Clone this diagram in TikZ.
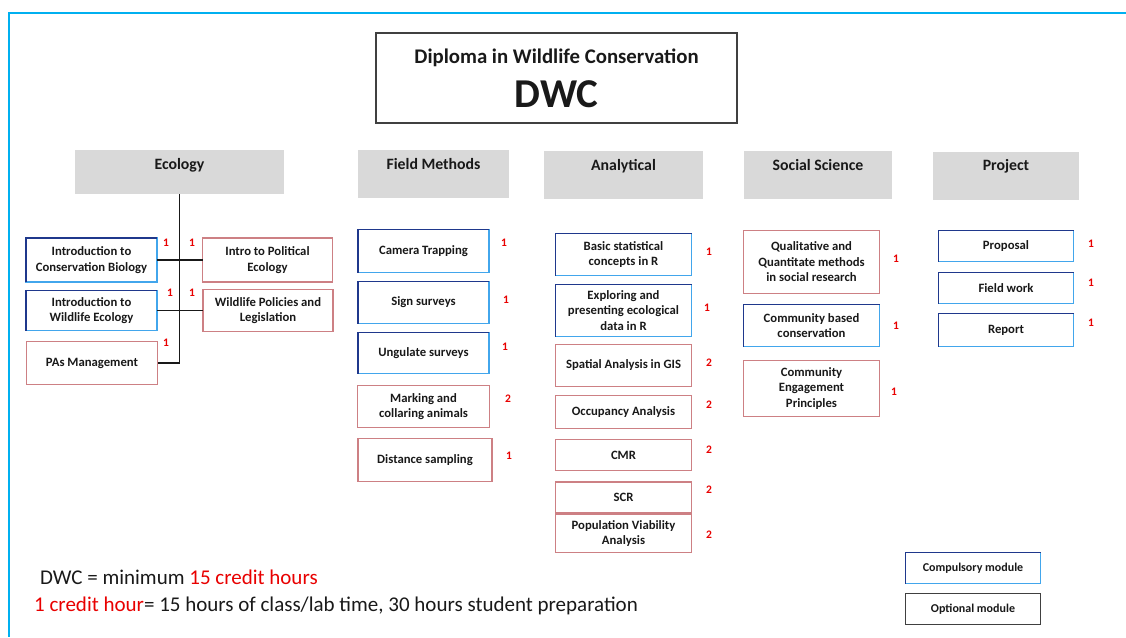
\documentclass[tikz,border=0pt]{standalone}
\usepackage{fontspec}
\setmainfont{Carlito}
\usetikzlibrary{positioning,calc}
\definecolor{navyline}{RGB}{31,56,140}
\definecolor{skyline}{RGB}{66,166,236}
\definecolor{roseline}{RGB}{205,128,132}
\definecolor{headgray}{RGB}{217,217,217}
\definecolor{framecyan}{RGB}{0,176,240}
\definecolor{creditred}{RGB}{232,0,0}
\tikzset{
    module/.style={draw, fill=white, align=center, outer sep=0pt, inner sep=1pt, line width=1.6pt, text=black!90, font=\bfseries\fontsize{12.7}{15.5}\selectfont},
    compulsory/.style={module, draw=skyline},
    optional/.style={module, draw=roseline},
    header/.style={fill=headgray, outer sep=0pt, inner sep=0pt, text height=19pt, text depth=29pt, text=black!90, font=\bfseries\fontsize{15.8}{18}\selectfont},
    credit/.style={text=creditred, inner sep=0pt, font=\bfseries\fontsize{11.5}{13}\selectfont},
    link/.style={draw=black!90, line width=1.2pt}
}

\begin{document}
\begin{tikzpicture}[x=1pt,y=-1pt]
    \useasboundingbox (0,0) rectangle (1126,637);
    \draw[framecyan, line width=2.5pt] (1126,13) -- (9,13) -- (9,637);
    \node[draw=black!75, line width=1.8pt, minimum width=361pt, minimum height=90pt, align=center, text=black!90, font=\bfseries\fontsize{41}{44}\selectfont] (dwc) at (556.5,78) {{\fontsize{20.8}{24}\selectfont Diploma in Wildlife Conservation}\\DWC};
    % module groups
    \node[header, minimum width=209pt, text depth=25pt] (eco) at (179.5,172) {Ecology};
    \node[header, minimum width=151pt] (field) at (433.5,174) {Field Methods};
    \node[header, minimum width=159pt] (anal) at (623.5,175) {Analytical};
    \node[header, minimum width=148pt] (soc) at (818,175) {Social Science};
    \node[header, minimum width=146pt] (proj) at (1006,175.5) {Project};
    % ecology
    \node[compulsory, minimum width=131pt, minimum height=44pt] (icb) at (91.5,260) {Introduction to\\Conservation Biology};
    \node[optional, minimum width=130pt, minimum height=44pt] (ipe) at (267.5,260) {Intro to Political\\Ecology};
    \node[compulsory, minimum width=131pt, minimum height=40pt] (iwe) at (91.5,310.5) {Introduction to\\Wildlife Ecology};
    \node[optional, minimum width=130pt, minimum height=42pt] (wpl) at (268,310.5) {Wildlife Policies and\\Legislation};
    \node[optional, minimum width=131pt, minimum height=43pt] (pas) at (92,363) {PAs Management};
    \node[credit] (c-icb) at (166,243) {1};
    \node[credit] (c-ipe) at (192,243) {1};
    \node[credit] (c-iwe) at (170,293) {1};
    \node[credit] (c-wpl) at (192,293) {1};
    \node[credit] (c-pas) at (166,343) {1};
    \draw[link] (eco.south) |- (pas.east);
    \draw[link] (icb.east) -- (ipe.west);
    \draw[link] (iwe.east) -- (wpl.west);
    % field methods
    \node[compulsory, minimum width=131pt, minimum height=43pt] (cam) at (423.5,251) {Camera Trapping};
    \node[compulsory, minimum width=131pt, minimum height=42pt] (sign) at (423.5,302.5) {Sign surveys};
    \node[compulsory, minimum width=131pt, minimum height=41pt] (ung) at (423.5,353) {Ungulate surveys};
    \node[optional, minimum width=132pt, minimum height=42pt] (mark) at (423.5,406.5) {Marking and\\collaring animals};
    \node[optional, minimum width=134pt, minimum height=43pt] (dist) at (425,460) {Distance sampling};
    \node[credit] (c-cam) at (504,243) {1};
    \node[credit] (c-sign) at (506,300) {1};
    \node[credit] (c-ung) at (505,347) {1};
    \node[credit] (c-mark) at (508,399) {2};
    \node[credit] (c-dist) at (509,456) {1};
    % analytical
    \node[compulsory, minimum width=136pt, minimum height=42pt] (bsc) at (623.5,254.5) {Basic statistical\\concepts in R};
    \node[compulsory, minimum width=136pt, minimum height=52pt] (expl) at (623.5,310.5) {Exploring and\\presenting ecological\\data in R};
    \node[optional, minimum width=136pt, minimum height=42pt] (gis) at (623.5,365.5) {Spatial Analysis in GIS};
    \node[optional, minimum width=136pt, minimum height=33pt] (occ) at (623.5,412) {Occupancy Analysis};
    \node[optional, minimum width=136pt, minimum height=31pt] (cmr) at (623.5,455) {CMR};
    \node[optional, minimum width=136pt, minimum height=31pt] (scr) at (623.5,497.5) {SCR};
    \node[optional, minimum width=136pt, minimum height=38pt] (pva) at (623.5,533.5) {Population Viability\\Analysis};
    \node[credit] (c-bsc) at (709,252) {1};
    \node[credit] (c-expl) at (707,308) {1};
    \node[credit] (c-gis) at (709,363) {2};
    \node[credit] (c-occ) at (709,405) {2};
    \node[credit] (c-cmr) at (709,450) {2};
    \node[credit] (c-scr) at (709,490) {2};
    \node[credit] (c-pva) at (709,535) {2};
    % social science
    \node[optional, minimum width=136pt, minimum height=63pt] (qual) at (811.5,262) {Qualitative and\\Quantitate methods\\in social research};
    \node[compulsory, minimum width=136pt, minimum height=42pt] (cbc) at (811.5,325.5) {Community based\\conservation};
    \node[optional, minimum width=136pt, minimum height=56pt] (cep) at (811.5,388.5) {Community\\Engagement\\Principles};
    \node[credit] (c-qual) at (896,259) {1};
    \node[credit] (c-cbc) at (896,326) {1};
    \node[credit] (c-cep) at (894,392) {1};
    % project
    \node[compulsory, minimum width=135pt, minimum height=31pt] (prop) at (1006,246) {Proposal};
    \node[compulsory, minimum width=135pt, minimum height=31pt] (fw) at (1006,288) {Field work};
    \node[compulsory, minimum width=135pt, minimum height=33pt] (rep) at (1006,330) {Report};
    \node[credit] (c-prop) at (1091,244) {1};
    \node[credit] (c-fw) at (1091,283) {1};
    \node[credit] (c-rep) at (1091,323) {1};
    % legend
    \node[compulsory, minimum width=135pt, minimum height=31pt, font=\bfseries\fontsize{12}{14}\selectfont] (lgc) at (973,568) {Compulsory module};
    \node[module, draw=black!75, minimum width=135pt, minimum height=31pt, font=\bfseries\fontsize{12}{14}\selectfont] (lgo) at (973,609) {Optional module};
    \foreach \n in {icb,iwe,cam,sign,ung,bsc,expl,cbc,prop,fw,rep,lgc}
        \draw[navyline, line width=1.6pt] (\n.south west) |- (\n.north east);
    \node[anchor=base west, inner sep=0pt, text=black!90, font=\fontsize{21}{24}\selectfont] (total) at (40,584) {DWC = minimum \textcolor{creditred}{15 credit hours}};
    \node[anchor=base west, inner sep=0pt, text=black!90, font=\fontsize{21}{24}\selectfont] (hour) at (34,611) {\textcolor{creditred}{1 credit hour}= 15 hours of class/lab time, 30 hours student preparation};
\end{tikzpicture}
\end{document}
